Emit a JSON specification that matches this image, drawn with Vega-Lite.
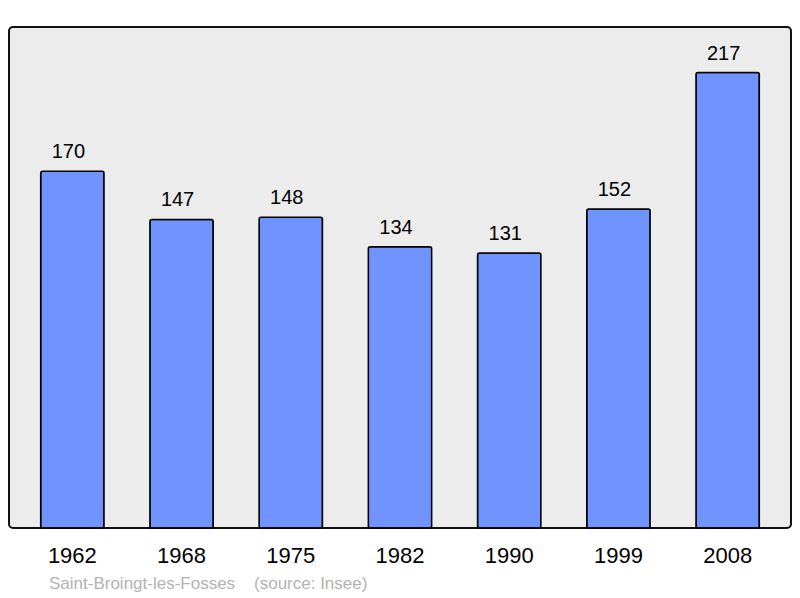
{
  "$schema": "https://vega.github.io/schema/vega-lite/v6.json",
  "width": 782,
  "height": 501,
  "autosize": {"type": "none"},
  "padding": {"left": 9, "top": 27, "right": 9, "bottom": 70},
  "background": "white",
  "config": {
    "font": "Liberation Sans",
    "view": {"fill": "#ececec", "stroke": "#111111", "strokeWidth": 2, "cornerRadius": 4}
  },
  "title": {
    "text": "Saint-Broingt-les-Fosses\u00a0\u00a0\u00a0\u00a0(source: Insee)",
    "orient": "bottom",
    "anchor": "start",
    "dx": 40,
    "offset": 10,
    "fontSize": 17,
    "fontWeight": "normal",
    "color": "#b3b3b3",
    "font": "Liberation Sans"
  },
  "data": {
    "values": [
      {"year": "1962", "pop": 170},
      {"year": "1968", "pop": 147},
      {"year": "1975", "pop": 148},
      {"year": "1982", "pop": 134},
      {"year": "1990", "pop": 131},
      {"year": "1999", "pop": 152},
      {"year": "2008", "pop": 217}
    ]
  },
  "encoding": {
    "x": {
      "field": "year",
      "type": "nominal",
      "scale": {"paddingInner": 0.42, "paddingOuter": 0.29},
      "axis": {"title": null, "ticks": false, "domain": false, "labelAngle": 0, "labelFontSize": 22, "labelColor": "#000000", "labelPadding": 17}
    },
    "y": {
      "field": "pop",
      "type": "quantitative",
      "scale": {"domain": [0, 238.7], "nice": false},
      "axis": null
    }
  },
  "layer": [
    {
      "mark": {"type": "bar", "color": "#7094ff", "stroke": "#000000", "strokeWidth": 1.5, "cornerRadius": 2}
    },
    {
      "mark": {"type": "text", "dy": -13, "dx": -4, "baseline": "alphabetic", "fontSize": 20, "color": "#000000"},
      "encoding": {"text": {"field": "pop", "type": "quantitative"}}
    }
  ]
}
